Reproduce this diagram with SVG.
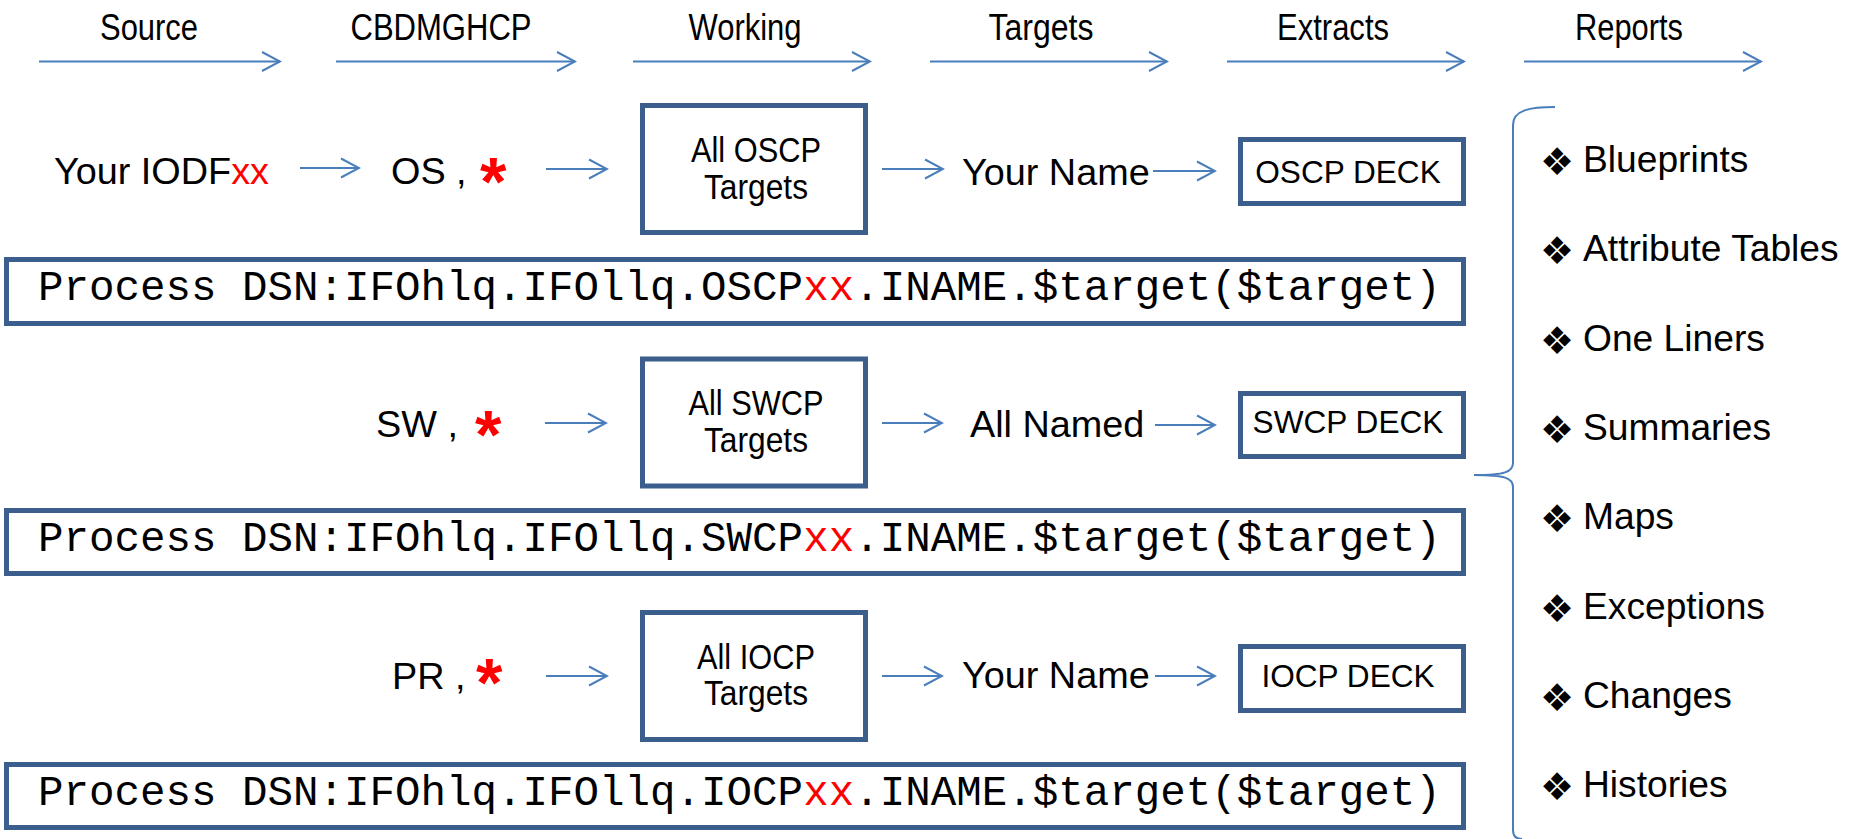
<svg xmlns="http://www.w3.org/2000/svg" width="1850" height="839" viewBox="0 0 1850 839">
  <style>
    text { font-family: "Liberation Sans", Arial, sans-serif; fill: #000; }
    .hd { font-size: 36px; text-anchor: middle; }
    .lb { font-size: 37.8px; }
    .bx { font-size: 35px; text-anchor: middle; }
    .dk { font-size: 31.6px; text-anchor: middle; }
    .pr { font-family: "Liberation Mono", "Courier New", monospace; font-size: 42.5px; }
    .red { fill: #FF0000; }
    .star { font-size: 68px; font-weight: bold; fill: #FF0000; }
    .box { fill: #FFFFFF; stroke: #3B5E8C; stroke-width: 5; }
    .ln { stroke: #4A7EBB; stroke-width: 2; fill: none; }
    .bul { font-family: "DejaVu Sans", sans-serif; font-size: 38px; }
    .li { font-size: 37.2px; }
  </style>
  <defs>
    <marker id="arr" markerUnits="userSpaceOnUse" viewBox="0 0 22 24" markerWidth="22" markerHeight="24" refX="20" refY="12" orient="auto">
      <path d="M2,2.5 L20,12 L2,21.5" fill="none" stroke="#4A7EBB" stroke-width="2"/>
    </marker>
  </defs>

  <rect width="1850" height="839" fill="#FFFFFF"/>

  <!-- stage headings (narrowed lettering) -->
  <g id="headings">
    <text class="hd" x="149" y="40" textLength="98" lengthAdjust="spacingAndGlyphs">Source</text>
    <text class="hd" x="441" y="40" textLength="181" lengthAdjust="spacingAndGlyphs">CBDMGHCP</text>
    <text class="hd" x="745" y="40" textLength="113" lengthAdjust="spacingAndGlyphs">Working</text>
    <text class="hd" x="1041" y="40" textLength="105" lengthAdjust="spacingAndGlyphs">Targets</text>
    <text class="hd" x="1333" y="40" textLength="112" lengthAdjust="spacingAndGlyphs">Extracts</text>
    <text class="hd" x="1629" y="40" textLength="108" lengthAdjust="spacingAndGlyphs">Reports</text>
  </g>

  <!-- arrows -->
  <g id="connectors" class="ln" marker-end="url(#arr)">
    <line x1="39" y1="61.5" x2="280" y2="61.5"/>
    <line x1="336" y1="61.5" x2="575" y2="61.5"/>
    <line x1="633" y1="61.5" x2="870" y2="61.5"/>
    <line x1="930" y1="61.5" x2="1167" y2="61.5"/>
    <line x1="1227" y1="61.5" x2="1464" y2="61.5"/>
    <line x1="1524" y1="61.5" x2="1761" y2="61.5"/>

    <line x1="300" y1="168" x2="359" y2="168"/>
    <line x1="546" y1="169" x2="607" y2="169"/>
    <line x1="882" y1="169" x2="943" y2="169"/>
    <line x1="1153" y1="171" x2="1215" y2="171"/>

    <line x1="545" y1="423" x2="606" y2="423"/>
    <line x1="882" y1="423" x2="942" y2="423"/>
    <line x1="1155" y1="425" x2="1215" y2="425"/>

    <line x1="546" y1="676" x2="607" y2="676"/>
    <line x1="882" y1="676" x2="942" y2="676"/>
    <line x1="1155" y1="676" x2="1215" y2="676"/>
  </g>

  <!-- OSCP row -->
  <g id="src-iodf"><text class="lb" x="54" y="184">Your IODF<tspan class="red">xx</tspan></text></g>
  <g id="os"><text class="lb" x="391" y="184">OS , </text><text class="star" x="480" y="205">*</text></g>
  <g id="oscp-targets">
    <rect class="box" x="642.5" y="105.5" width="223" height="127"/>
    <text class="bx" x="756" y="162" textLength="130" lengthAdjust="spacingAndGlyphs">All OSCP</text>
    <text class="bx" x="756" y="199" textLength="104" lengthAdjust="spacingAndGlyphs">Targets</text>
  </g>
  <g id="oscp-name"><text class="lb" x="962" y="185">Your Name</text></g>
  <g id="oscp-deck">
    <rect class="box" x="1240.5" y="139.5" width="223" height="64"/>
    <text class="dk" x="1348" y="183">OSCP DECK</text>
  </g>
  <g id="oscp-process">
    <rect class="box" x="6.5" y="259.5" width="1457" height="64"/>
    <text class="pr" x="38" y="300">Process DSN:IFOhlq.IFOllq.OSCP<tspan class="red">xx</tspan>.INAME.$target($target)</text>
  </g>

  <!-- SWCP row -->
  <g id="sw"><text class="lb" x="376" y="437">SW ,</text><text class="star" x="475" y="458">*</text></g>
  <g id="swcp-targets">
    <rect class="box" x="642.5" y="359" width="223" height="127"/>
    <text class="bx" x="756" y="415" textLength="135" lengthAdjust="spacingAndGlyphs">All SWCP</text>
    <text class="bx" x="756" y="452" textLength="104" lengthAdjust="spacingAndGlyphs">Targets</text>
  </g>
  <g id="swcp-name"><text class="lb" x="970" y="437">All Named</text></g>
  <g id="swcp-deck">
    <rect class="box" x="1240.5" y="393.5" width="223" height="63"/>
    <text class="dk" x="1348" y="433">SWCP DECK</text>
  </g>
  <g id="swcp-process">
    <rect class="box" x="6.5" y="510.5" width="1457" height="63"/>
    <text class="pr" x="38" y="551">Process DSN:IFOhlq.IFOllq.SWCP<tspan class="red">xx</tspan>.INAME.$target($target)</text>
  </g>

  <!-- IOCP row -->
  <g id="pr"><text class="lb" x="392" y="689">PR ,</text><text class="star" x="476" y="706">*</text></g>
  <g id="iocp-targets">
    <rect class="box" x="642.5" y="612.5" width="223" height="127"/>
    <text class="bx" x="756" y="669" textLength="118" lengthAdjust="spacingAndGlyphs">All IOCP</text>
    <text class="bx" x="756" y="705" textLength="104" lengthAdjust="spacingAndGlyphs">Targets</text>
  </g>
  <g id="iocp-name"><text class="lb" x="962" y="688">Your Name</text></g>
  <g id="iocp-deck">
    <rect class="box" x="1240.5" y="646.5" width="223" height="64"/>
    <text class="dk" x="1348" y="687">IOCP DECK</text>
  </g>
  <g id="iocp-process">
    <rect class="box" x="6.5" y="764.5" width="1457" height="63"/>
    <text class="pr" x="38" y="805">Process DSN:IFOhlq.IFOllq.IOCP<tspan class="red">xx</tspan>.INAME.$target($target)</text>
  </g>

  <!-- brace gathering the decks into reports -->
  <g id="brace">
    <path class="ln" d="M1555,107 C1530,107 1513,110 1513,125 L1513,463 C1513,472 1505,475 1474,475 C1505,475 1513,478 1513,487 L1513,830 C1513,836 1516,839 1522,839"/>
  </g>

  <!-- report list -->
  <g id="reports">
    <text class="li" y="172"><tspan class="bul" x="1540" dy="3">❖</tspan><tspan x="1583" dy="-3">Blueprints</tspan></text>
    <text class="li" y="261.3"><tspan class="bul" x="1540" dy="3">❖</tspan><tspan x="1583" dy="-3">Attribute Tables</tspan></text>
    <text class="li" y="350.6"><tspan class="bul" x="1540" dy="3">❖</tspan><tspan x="1583" dy="-3">One Liners</tspan></text>
    <text class="li" y="439.9"><tspan class="bul" x="1540" dy="3">❖</tspan><tspan x="1583" dy="-3">Summaries</tspan></text>
    <text class="li" y="529.2"><tspan class="bul" x="1540" dy="3">❖</tspan><tspan x="1583" dy="-3">Maps</tspan></text>
    <text class="li" y="618.5"><tspan class="bul" x="1540" dy="3">❖</tspan><tspan x="1583" dy="-3">Exceptions</tspan></text>
    <text class="li" y="707.8"><tspan class="bul" x="1540" dy="3">❖</tspan><tspan x="1583" dy="-3">Changes</tspan></text>
    <text class="li" y="797.1"><tspan class="bul" x="1540" dy="3">❖</tspan><tspan x="1583" dy="-3">Histories</tspan></text>
  </g>
</svg>
